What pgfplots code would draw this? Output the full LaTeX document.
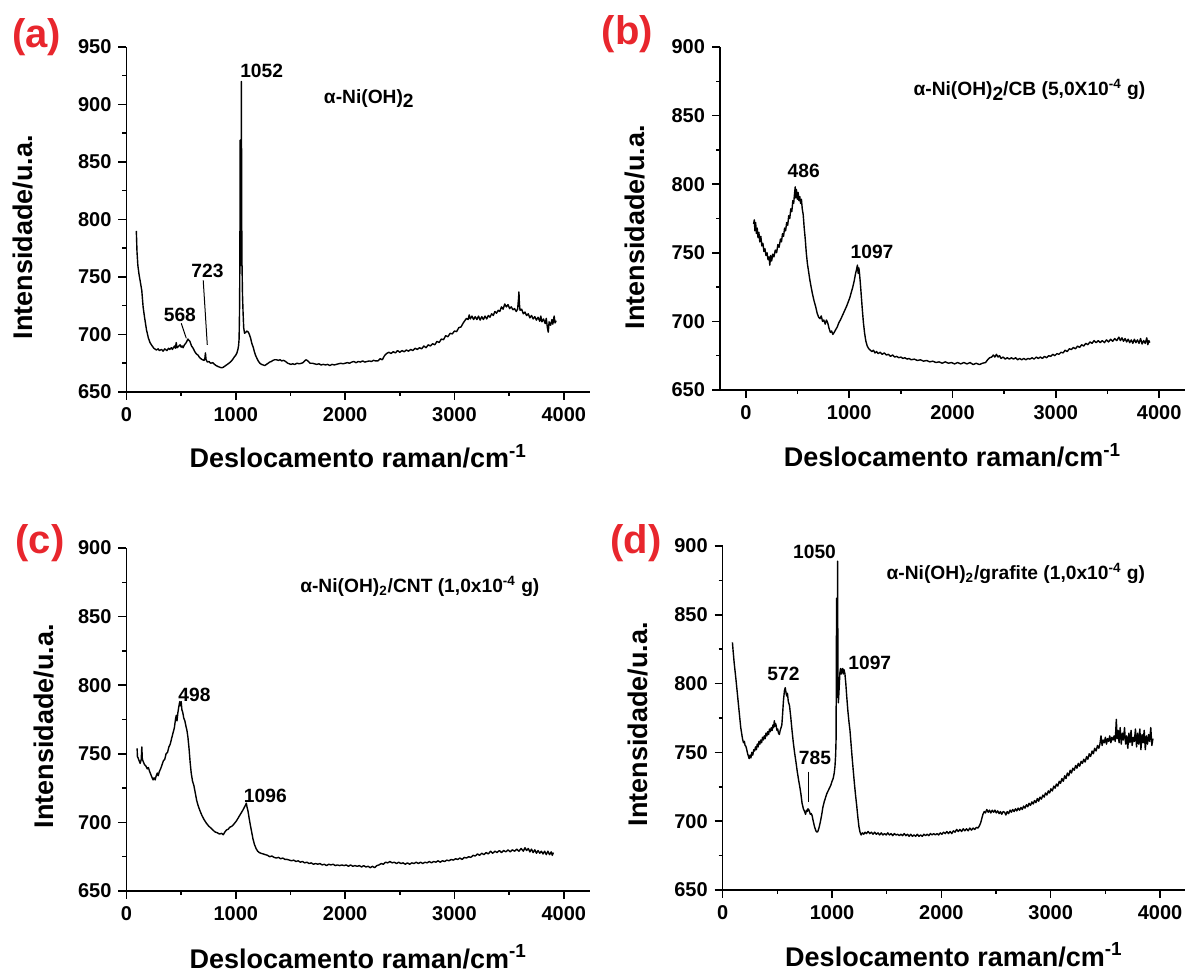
\documentclass[border=0pt]{standalone}
\usepackage{fontspec}
\setmainfont{Liberation Sans}
\usepackage{pgfplots}
\pgfplotsset{compat=1.18}
\definecolor{panelred}{RGB}{232,38,45}
\tikzset{ann/.style={font=\bfseries\fontsize{9.6}{11}\selectfont}}
\pgfplotsset{
  ramanstyle/.style={
    scale only axis,
    anchor=south west,
    axis x line=bottom, axis y line=left,
    axis line style={-, line width=0.75pt},
    tick align=outside,
    major tick length=4pt, minor tick length=2pt,
    every tick/.style={black, line width=0.75pt},
    minor x tick num=1, minor y tick num=1,
    xtick={0,1000,2000,3000,4000},
    ytick distance=50,
    tick label style={font=\bfseries\fontsize{10}{12}\selectfont},
    /pgf/number format/assume math mode=true,
    /pgf/number format/1000 sep={},
    xlabel={Deslocamento raman/cm\textsuperscript{-1}},
    ylabel={Intensidade/u.a.},
    label style={font=\bfseries\fontsize{13.5}{16}\selectfont},
    clip=false,
  },
  curve/.style={black, line width=0.7pt, mark=none, line join=round},
}
\begin{document}
\begin{tikzpicture}
\path[use as bounding box] (0,0) rectangle (592.5pt,486pt);

% ---------------- (a) ----------------
\begin{axis}[ramanstyle, at={(63.25pt,290pt)}, width=231.75pt, height=172.5pt,
  xmin=0, xmax=4240, ymin=650, ymax=950,
  xlabel style={at={(axis description cs:0.5,-0.22)}, anchor=base},
  ylabel style={at={(axis description cs:-0.223,0.449)}, anchor=center}]
\addplot[curve] coordinates {
(90,790) (96,772) (104,760) (115,752) (128,745) (140,738) (152,724) (165,715) (183,704) (200,697) (215,693) (228,691) (250,688) (274,686.5) (290,687.5) (300,686) (320,687) (335,685.5) (350,687.5) (370,686) (385,688) (396,687) (410,688.5) (420,687) (432,689) (440,690) (447,688) (455,693) (462,688.5) (475,689.5) (490,691) (500,689) (510,690) (518,688.5) (530,691) (540,692) (552,694) (562,696) (570,695) (580,694) (595,690) (610,688) (625,685) (640,683) (655,682) (668,680) (680,679) (695,678) (710,677.5) (718,680) (722,684) (728,678) (740,676) (755,676.5) (770,675) (790,675.5) (805,674) (820,673) (840,672) (855,671.5) (870,671) (885,671.5) (900,672.5) (915,673.5) (930,674.5) (950,676) (965,677.5) (976,679) (990,681) (1000,682) (1010,684) (1018,686.5) (1025,690) (1030,696) (1034,720) (1037,760) (1040,869) (1043,790) (1046,760) (1048,820) (1051,920) (1054,800) (1057,760) (1061,735) (1066,720) (1072,706) (1080,701) (1092,702) (1100,703) (1110,702.5) (1120,701) (1135,697) (1147,692) (1159,689) (1170,685) (1180,682) (1192,679.5) (1205,677) (1220,675) (1235,674) (1250,673.5) (1265,673) (1280,674) (1296,675) (1310,676) (1325,676.5) (1340,677.5) (1355,678) (1372,678) (1390,677.5) (1405,678) (1420,677) (1435,677.5) (1448,677) (1462,676) (1475,675) (1490,674.5) (1505,674) (1520,674.5) (1540,674) (1560,675) (1580,674.5) (1601,675) (1615,675.5) (1630,677) (1642,678) (1652,677.5) (1665,676.5) (1680,675) (1700,675) (1720,674.5) (1740,674) (1760,674.5) (1780,673.5) (1800,674) (1820,673.5) (1840,674) (1860,673) (1880,674) (1900,673.5) (1920,674) (1940,674.5) (1960,675) (1980,674.5) (2000,675) (2020,675.5) (2040,675) (2060,676) (2080,676.5) (2100,675.5) (2120,676.5) (2140,676) (2160,677) (2180,676) (2200,676.5) (2220,677) (2240,676.5) (2260,677.5) (2280,677) (2300,677)
(2320,679) (2340,678) (2360,681.5) (2380,683.5) (2400,684.5) (2420,683.5) (2440,685) (2460,684) (2480,686) (2500,684.5) (2520,686) (2540,685) (2560,686.5) (2580,685.5) (2600,687) (2620,686) (2640,688) (2660,687) (2680,688.5) (2700,687.5) (2720,690) (2740,688.5) (2760,691) (2780,690) (2800,692) (2820,691) (2840,694) (2860,693) (2880,696) (2900,695.5) (2920,699) (2940,698) (2960,701) (2980,700.5) (3000,703) (3020,702.5) (3040,706) (3060,706.5) (3080,710) (3095,712) (3110,714) (3125,713) (3135,717) (3145,713.5) (3160,716) (3175,713) (3190,715.5) (3205,713) (3220,716) (3235,712.5) (3250,715.5) (3265,713) (3280,716) (3295,713.5) (3310,716.5) (3325,715) (3340,718) (3355,716.5) (3370,720) (3385,718.5) (3400,721) (3415,720) (3430,724) (3445,722) (3460,726.5) (3475,724) (3490,726) (3505,722.5) (3520,724) (3535,721.5) (3550,722.5) (3565,720) (3578,722) (3586,731) (3590,737) (3594,727) (3600,721) (3615,722) (3630,718) (3645,719.5) (3660,716.5) (3675,718) (3690,714.5) (3705,716.5) (3720,713.5) (3735,715.5) (3750,712.5) (3765,715) (3780,711.5) (3790,716) (3800,711) (3815,713.5) (3830,709.5) (3840,714) (3850,706) (3858,702) (3866,711) (3880,708) (3892,713) (3900,709) (3912,716) (3920,710) (3930,712)
};
\addplot[black, line width=0.5pt] coordinates {(501,709.7) (547,696.7)};
\addplot[black, line width=0.5pt] coordinates {(702,747) (739,691)};
\node[ann] at (axis cs:1236,929) {1052};
\node[ann] at (axis cs:741,755) {723};
\node[ann] at (axis cs:488,717) {568};
\node[ann, anchor=west] at (axis cs:1742,905) {α-Ni(OH)\raisebox{-0.45ex}{2}};
\end{axis}

% ---------------- (b) ----------------
\begin{axis}[ramanstyle, at={(360pt,291pt)}, width=232.5pt, height=171.5pt,
  xmin=-250, xmax=4250, ymin=650, ymax=900,
  xlabel style={at={(axis description cs:0.5,-0.224)}, anchor=base},
  ylabel style={at={(axis description cs:-0.183,0.475)}, anchor=center}]
\addplot[curve] coordinates {
(75,771) (82,774) (88,766) (95,772) (102,764) (110,768) (118,761) (126,765) (135,758) (145,762) (155,755) (165,757) (175,751) (185,753) (195,748) (205,750) (215,745) (225,747) (232,741) (240,748) (250,744) (260,749) (272,747) (285,752) (298,750) (310,756) (322,754) (335,760) (345,758) (355,764) (365,762) (375,768) (385,766) (395,772) (405,770) (415,777) (425,775) (435,782) (445,780) (455,788) (463,786) (470,792) (478,798) (484,790) (490,796) (498,789) (506,794) (514,788) (522,791) (530,786) (538,789) (546,782) (555,778) (565,768) (575,760) (585,750) (596,742) (608,736) (620,730) (632,725) (645,720) (660,715) (675,711) (690,706) (705,703) (718,702) (730,704) (742,700) (755,701) (768,698) (780,701) (792,699) (805,695) (818,692) (830,693) (842,690.5) (855,692) (870,694) (885,696) (900,699) (915,701) (930,703.5) (945,706) (960,708.5) (975,711) (990,714) (1005,717) (1020,721) (1035,725) (1050,730) (1062,735) (1072,738) (1080,741) (1087,735) (1094,739) (1100,735) (1108,728) (1118,718) (1128,708) (1138,699) (1150,691) (1162,685.5) (1175,682) (1190,680) (1205,679) (1220,678) (1235,679) (1250,677) (1265,678) (1280,676.5) (1300,677.5) (1320,676) (1340,677) (1360,675.5) (1380,676) (1400,674.5) (1420,675.5) (1440,674) (1460,674.5) (1480,673.5) (1500,674) (1520,673) (1540,673.5) (1560,672.5) (1580,673) (1600,672) (1630,672.5) (1660,671.5) (1690,672) (1720,671) (1750,671.5) (1780,670.5) (1810,671) (1840,670) (1870,670.5) (1900,669.5) (1930,670.5) (1960,669.5) (1990,670) (2020,669) (2050,670) (2080,669) (2110,670) (2140,669) (2170,670) (2200,668.5) (2230,669.5) (2260,668.5) (2290,669.5) (2320,670) (2340,672) (2360,673.5) (2380,674) (2395,675.5) (2410,674) (2425,676) (2440,674) (2455,675) (2470,673) (2490,674) (2510,672.5) (2530,673.5) (2550,672.5) (2570,673.5) (2590,672.5) (2610,673.5) (2630,672) (2650,673) (2670,672) (2690,673) (2710,672) (2730,673) (2750,672.5) (2770,673.5) (2790,672.5) (2810,674) (2830,673) (2850,674) (2870,673) (2890,674.5) (2910,673.5) (2930,675) (2950,674.5) (2970,676) (2990,675) (3010,676.5) (3030,676) (3050,677.5) (3070,677) (3090,679) (3110,678) (3130,680) (3150,679.5) (3170,681) (3190,680) (3210,682) (3230,681) (3250,683) (3270,682) (3290,684) (3310,683) (3330,685) (3350,684) (3370,686) (3390,684.5) (3410,686) (3430,684.5) (3450,686) (3470,684.5) (3490,686.5) (3510,685) (3530,687) (3550,685.5) (3570,687.5) (3590,686) (3610,688.5) (3625,686) (3640,688) (3655,685.5) (3670,687.5) (3685,685) (3700,687) (3715,684.5) (3730,686.5) (3745,684) (3760,687) (3775,684.5) (3790,686.5) (3805,684) (3820,687.5) (3835,683.5) (3850,686) (3865,684) (3880,688) (3890,683) (3900,686) (3910,684.5)
};
\node[ann] at (axis cs:560,810) {486};
\node[ann] at (axis cs:1221,751) {1097};
\node[ann, anchor=west] at (axis cs:1555,869) {α-Ni(OH)\raisebox{-0.45ex}{2}/CB (5,0X10\textsuperscript{-4} g)};
\end{axis}

% ---------------- (c) ----------------
\begin{axis}[ramanstyle, at={(63.25pt,40.5pt)}, width=231.75pt, height=171.5pt,
  xmin=0, xmax=4240, ymin=650, ymax=900,
  xlabel style={at={(axis description cs:0.5,-0.225)}, anchor=base},
  ylabel style={at={(axis description cs:-0.179,0.48)}, anchor=center}]
\addplot[curve] coordinates {
(97,754) (100,748) (106,747) (115,745) (125,743) (135,746) (140,755) (145,746) (155,744) (165,742) (178,741) (190,739) (200,740) (212,737) (222,735) (232,733) (243,731) (252,732.5) (262,731) (272,734) (282,736) (290,734) (300,737) (312,739) (325,742) (338,745) (350,746) (362,750) (375,751) (388,755) (400,757) (412,761) (425,765) (438,769) (448,775) (455,778) (462,774) (470,780) (478,784) (487,788) (493,785) (500,788) (507,782) (515,780) (524,776) (534,774) (544,770) (553,767) (562,762) (572,754) (582,744) (592,736) (604,730) (616,727) (628,722) (642,716) (656,712) (672,708.5) (690,705) (710,702) (730,699.5) (750,697.5) (770,696) (790,694.5) (810,693) (830,692.5) (850,691.5) (870,692) (885,691) (900,693) (915,694.5) (930,695) (945,696.5) (960,697) (975,698) (990,699.5) (1005,701) (1020,703) (1035,705) (1050,707) (1065,709) (1078,711) (1088,712.5) (1096,714) (1103,711) (1112,708) (1122,703) (1133,698) (1145,693) (1157,688) (1170,684) (1185,681) (1200,679) (1215,678) (1230,677.5) (1250,677) (1270,676.5) (1290,676) (1310,675) (1330,675.5) (1350,674.5) (1370,674) (1390,674.5) (1410,673.5) (1430,674) (1450,673) (1470,673) (1490,672.5) (1510,672) (1530,672.5) (1550,671.5) (1570,672) (1590,671) (1610,671.5) (1630,670.5) (1650,671) (1670,670) (1690,670.5) (1710,669.5) (1730,670) (1750,669.5) (1770,670) (1790,669) (1810,669.5) (1830,668.5) (1850,669.5) (1870,669) (1890,669.5) (1910,668.5) (1930,669) (1950,668.5) (1970,669) (1990,668.5) (2010,669) (2030,668) (2050,669) (2070,668) (2090,668.5) (2110,668) (2130,668.5) (2150,667.5) (2170,668.5) (2190,667.5) (2210,668) (2230,667) (2250,668) (2270,667) (2290,668.5) (2310,669) (2330,670) (2350,669.5) (2370,671) (2390,670.5) (2410,671.5) (2430,670.5) (2450,671) (2470,670) (2490,671) (2510,670) (2530,670.5) (2550,669.5) (2570,670.5) (2590,669.5) (2610,670.5) (2630,670) (2650,671) (2670,670) (2690,671) (2710,670) (2730,671) (2750,670.5) (2770,671.5) (2790,670.5) (2810,671.5) (2830,671) (2850,672) (2870,671) (2890,672) (2910,671.5) (2930,672.5) (2950,672) (2970,673) (2990,672.5) (3010,673.5) (3030,673) (3050,674) (3070,673) (3090,674.5) (3110,674) (3130,675) (3150,674.5) (3170,676) (3190,675.5) (3210,677) (3230,676) (3250,677.5) (3270,676.5) (3290,678) (3310,677) (3330,679) (3350,677.5) (3370,679) (3390,678) (3410,679.5) (3430,678) (3450,679.5) (3470,678.5) (3490,680) (3510,678.5) (3530,680) (3550,679) (3570,680.5) (3590,679) (3610,681) (3630,679) (3645,681.5) (3660,679.5) (3675,681) (3690,678.5) (3705,680.5) (3720,678) (3735,680) (3750,677.5) (3765,679.5) (3780,677.5) (3795,679) (3810,677) (3825,679) (3840,676.5) (3855,679) (3870,676.5) (3885,678.5) (3895,676) (3905,678)
};
\node[ann] at (axis cs:622,793) {498};
\node[ann] at (axis cs:1270,719) {1096};
\node[ann, anchor=west] at (axis cs:1525,872) {α-Ni(OH)\textsubscript{2}/CNT (1,0x10\textsuperscript{-4} g)};
\end{axis}

% ---------------- (d) ----------------
\begin{axis}[ramanstyle, at={(361.35pt,41pt)}, width=231.25pt, height=172pt,
  xmin=0, xmax=4230, ymin=650, ymax=900,
  xlabel style={at={(axis description cs:0.5,-0.222)}, anchor=base},
  ylabel style={at={(axis description cs:-0.183,0.482)}, anchor=center}]
\addplot[curve] coordinates {
(89,830) (95,824) (105,815) (120,804) (135,792) (150,780) (165,768) (181,760) (190,757) (198,758) (205,755) (212,754.5) (220,752) (228,749) (236,747) (242,745.5) (250,748) (258,746) (266,750) (275,748) (284,752) (292,751) (300,754) (308,752) (316,756) (324,754) (332,758) (340,756) (348,759) (356,757) (364,761) (372,759) (380,762) (388,760) (396,764) (404,762) (412,765) (420,763) (428,767) (436,765) (444,768) (452,766) (460,770) (466,768) (472,773) (478,769) (484,771) (490,769) (496,766) (503,767) (510,764) (518,763) (526,766) (534,768) (541,770) (548,778) (556,788) (565,795) (572,797) (578,794) (585,791) (592,793) (600,787) (611,784) (622,776) (634,766) (646,757) (657,750) (670,743) (682,736) (694,730) (705,725) (715,720) (726,713) (738,709) (749,707) (758,705) (766,708) (774,707) (780,709) (786,708.5) (794,707) (802,705) (810,705.5) (818,704) (828,700) (840,696) (852,693) (862,692) (870,692.5) (880,695) (892,699) (904,704) (916,710) (928,714) (940,717) (952,720) (964,722) (976,724) (988,726) (1000,729) (1010,731) (1020,735) (1027,740) (1033,748) (1037,760) (1040,830) (1042,862) (1044,820) (1046,790) (1049,840) (1051,889) (1053,830) (1055,795) (1058,786) (1062,792) (1067,800) (1072,808) (1078,811) (1085,807) (1092,810) (1098,811) (1104,807) (1110,810) (1118,807) (1126,800) (1135,790) (1145,780) (1155,772) (1164,766) (1174,756) (1184,746) (1195,736) (1205,727) (1215,719) (1226,711) (1236,703) (1246,696) (1256,692) (1266,690) (1278,691.5) (1290,690.5) (1302,692) (1315,691) (1330,692.5) (1345,691) (1360,692) (1375,690.5) (1390,692) (1405,690.5) (1420,691.5) (1435,690) (1450,691.5) (1465,690) (1480,691) (1495,690) (1510,691.5) (1525,690) (1540,691) (1555,689.5) (1570,691) (1585,690) (1600,690.5) (1615,689.5) (1630,690.5) (1645,689.5) (1660,691) (1675,689.5) (1690,690.5) (1705,689) (1720,690.5) (1735,689) (1750,690) (1765,689) (1780,690.5) (1795,689) (1810,690) (1825,689) (1840,690.5) (1855,689.5) (1870,690.5) (1885,689.5) (1900,691) (1915,690) (1930,691) (1945,690) (1960,691) (1975,690) (1990,691.5) (2005,690.5) (2020,692) (2035,691) (2050,692.5) (2065,691) (2080,692.5) (2095,691) (2110,693) (2125,692) (2140,694) (2155,692.5) (2170,694) (2185,692.5) (2200,694.5) (2215,693) (2230,694.5) (2245,693) (2260,695) (2275,693.5) (2290,695) (2305,694) (2320,695.5) (2335,695) (2350,697) (2360,699) (2370,702) (2380,705) (2392,707) (2403,706) (2415,708.5) (2428,706.5) (2440,708) (2452,706) (2465,708) (2478,706.5) (2490,708) (2502,706) (2515,707.5) (2528,705.5) (2540,707) (2552,705) (2565,707) (2578,706.5) (2590,704.5) (2602,707) (2615,705.5) (2628,708) (2640,706.5) (2652,708.5) (2665,707) (2678,709) (2690,707.5) (2702,709.5) (2715,708) (2728,710) (2740,708.5) (2752,711) (2765,709.5) (2778,712) (2790,710.5) (2802,713) (2815,711.5) (2828,714) (2840,712.5) (2852,715) (2865,713.5) (2878,716.5) (2890,714.5) (2902,717.5) (2915,716) (2928,719) (2940,717.5) (2952,720.5) (2965,719) (2978,722) (2990,720.5) (3002,723.5) (3015,722) (3028,725.5) (3040,724) (3052,727) (3065,725.5) (3078,729) (3090,727.5) (3102,731) (3115,729) (3128,733) (3140,731) (3152,735) (3165,733) (3178,737) (3190,735) (3202,738.5) (3215,737) (3228,740.5) (3240,738.5) (3252,742) (3265,740) (3278,743.5) (3290,742) (3302,745) (3315,743) (3328,747) (3340,745) (3352,749) (3365,747) (3378,751) (3390,749) (3402,753) (3415,751) (3428,755) (3440,753)
(3450,756) (3460,762) (3470,755) (3480,759) (3490,757) (3500,761) (3510,756) (3520,760) (3530,758) (3540,762) (3550,757) (3560,761) (3570,759) (3580,762) (3590,758) (3600,774) (3608,760) (3616,766) (3625,757) (3635,768) (3645,756) (3655,764) (3665,759) (3675,768) (3685,756) (3695,762) (3705,753) (3715,764) (3725,757) (3735,766) (3745,755) (3755,761) (3765,758) (3775,767) (3785,754) (3795,764) (3805,756) (3815,767) (3825,752) (3835,763) (3845,757) (3855,766) (3865,752) (3875,762) (3885,756) (3895,763) (3905,758) (3915,768) (3925,755) (3935,760)
};
\addplot[black, line width=0.5pt] coordinates {(788,736) (788,714)};
\node[ann] at (axis cs:840,896) {1050};
\node[ann] at (axis cs:556,807) {572};
\node[ann] at (axis cs:844,746) {785};
\node[ann] at (axis cs:1345,815) {1097};
\node[ann, anchor=west] at (axis cs:1435,880) {α-Ni(OH)\textsubscript{2}/grafite (1,0x10\textsuperscript{-4} g)};
\end{axis}

% panel letters
\node[font=\bfseries\fontsize{20}{24}\selectfont, text=panelred] at (18.25pt,467.25pt) {(a)};
\node[font=\bfseries\fontsize{20}{24}\selectfont, text=panelred] at (313.75pt,469pt) {(b)};
\node[font=\bfseries\fontsize{20}{24}\selectfont, text=panelred] at (20pt,214.5pt) {(c)};
\node[font=\bfseries\fontsize{20}{24}\selectfont, text=panelred] at (318pt,214.5pt) {(d)};
\end{tikzpicture}
\end{document}
